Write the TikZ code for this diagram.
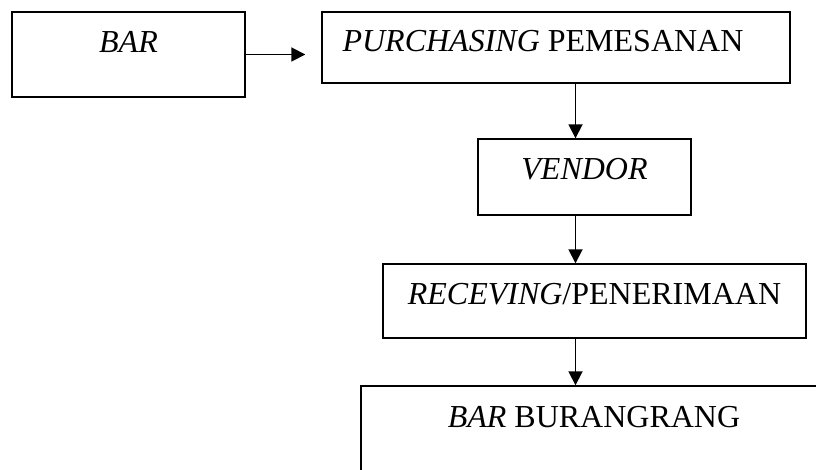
\documentclass[tikz,border=0pt]{standalone}
\usepackage{fontspec}
\setmainfont{Liberation Serif}
\usetikzlibrary{arrows.meta,positioning}

\begin{document}
\begin{tikzpicture}[
		x=1pt,y=-1pt,
		every node/.style={draw,rectangle,inner sep=0pt,line width=1.4pt,font=\fontsize{32}{38}\selectfont},
		box/.style={text height=41pt,align=center},
		flow/.style={line width=1.8pt,-{Triangle[length=14pt,width=14pt]}}
		]
		\useasboundingbox (0,0) rectangle (816,470);
		\begin{scope}
		\clip (0,0) rectangle (816,470);
		\node[box,minimum width=233pt,text depth=44pt] (bar) at (128.5,54.5) {\textit{BAR}};
		\node[box,minimum width=468pt,text height=40pt,text depth=31pt] (purch) at (556,47.5) {\textit{PURCHASING} PEMESANAN\hspace*{26pt}};
		\node[box,minimum width=213pt,text depth=35pt] (vendor) at (584.5,177) {\textit{VENDOR}};
		\node[box,minimum width=423pt,text height=40pt,text depth=34pt] (recv) at (594.5,301) {\textit{RECEVING}/PENERIMAAN};
		\node[box,minimum width=466pt,text depth=80pt] (burang) at (594,446.5) {\textit{BAR} BURANGRANG};
		\end{scope}
		\coordinate (spine) at (575.5,0);
		\draw[flow,shorten >=16pt] (bar.east) -- (bar.east -| purch.west);
		\draw[flow] (purch.south -| spine) -- (vendor.north -| spine);
		\draw[flow] (vendor.south -| spine) -- (recv.north -| spine);
		\draw[flow] (recv.south -| spine) -- (burang.north -| spine);
\end{tikzpicture}
\end{document}
